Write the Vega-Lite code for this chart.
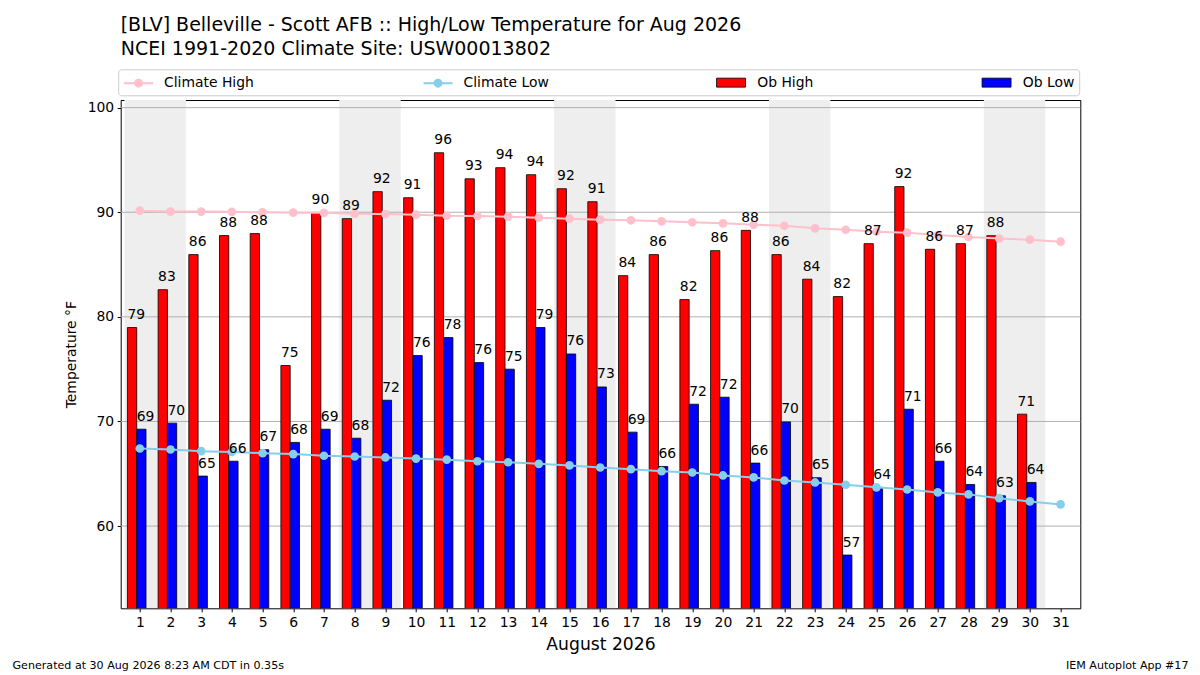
{
  "$schema": "https://vega.github.io/schema/vega-lite/v6.json",
  "width": 959.6,
  "height": 508.3,
  "autosize": {"type": "none"},
  "padding": {"left": 120.7, "top": 100, "right": 119.7, "bottom": 66.7},
  "background": "white",
  "config": {
    "font": "DejaVu Sans",
    "view": {"stroke": "black", "strokeWidth": 1},
    "axis": {
      "labelFont": "DejaVu Sans",
      "titleFont": "DejaVu Sans",
      "labelColor": "black",
      "titleColor": "black",
      "tickColor": "black",
      "grid": false,
      "domain": false,
      "labelFontSize": 13.9,
      "titleFontSize": 13.9,
      "titleFontWeight": "normal",
      "tickSize": 3.5
    },
    "legend": {
      "labelFont": "DejaVu Sans",
      "labelFontSize": 13.9,
      "labelColor": "black",
      "direction": "horizontal",
      "gridAlign": "none",
      "columnPadding": 165.5,
      "symbolSize": 256
    }
  },
  "title": {
    "text": [
      "[BLV] Belleville - Scott AFB :: High/Low Temperature for Aug 2026",
      "NCEI 1991-2020 Climate Site: USW00013802"
    ],
    "anchor": "start",
    "frame": "group",
    "font": "DejaVu Sans",
    "fontSize": 19,
    "fontWeight": "normal",
    "lineHeight": 24,
    "offset": 9.5,
    "color": "black"
  },
  "datasets": {
    "days": [
      {"day": 1, "hi": 78.98, "lo": 69.26, "chi": 90.15, "clo": 67.42},
      {"day": 2, "hi": 82.6, "lo": 69.84, "chi": 90.06, "clo": 67.32},
      {"day": 3, "hi": 85.95, "lo": 64.78, "chi": 90.06, "clo": 67.16},
      {"day": 4, "hi": 87.77, "lo": 66.2, "chi": 90.04, "clo": 67.08},
      {"day": 5, "hi": 87.96, "lo": 67.3, "chi": 89.99, "clo": 66.97},
      {"day": 6, "hi": 75.35, "lo": 68.0, "chi": 89.96, "clo": 66.88},
      {"day": 7, "hi": 89.93, "lo": 69.26, "chi": 89.94, "clo": 66.72},
      {"day": 8, "hi": 89.39, "lo": 68.4, "chi": 89.85, "clo": 66.65},
      {"day": 9, "hi": 91.97, "lo": 72.03, "chi": 89.83, "clo": 66.56},
      {"day": 10, "hi": 91.39, "lo": 76.3, "chi": 89.77, "clo": 66.45},
      {"day": 11, "hi": 95.69, "lo": 78.02, "chi": 89.67, "clo": 66.35},
      {"day": 12, "hi": 93.2, "lo": 75.63, "chi": 89.64, "clo": 66.2},
      {"day": 13, "hi": 94.26, "lo": 75.0, "chi": 89.58, "clo": 66.1},
      {"day": 14, "hi": 93.59, "lo": 78.98, "chi": 89.48, "clo": 65.95},
      {"day": 15, "hi": 92.25, "lo": 76.45, "chi": 89.39, "clo": 65.8},
      {"day": 16, "hi": 91.01, "lo": 73.3, "chi": 89.29, "clo": 65.6},
      {"day": 17, "hi": 83.94, "lo": 68.98, "chi": 89.23, "clo": 65.44},
      {"day": 18, "hi": 85.95, "lo": 65.7, "chi": 89.13, "clo": 65.25},
      {"day": 19, "hi": 81.65, "lo": 71.65, "chi": 89.04, "clo": 65.12},
      {"day": 20, "hi": 86.33, "lo": 72.32, "chi": 88.94, "clo": 64.84},
      {"day": 21, "hi": 88.27, "lo": 66.02, "chi": 88.8, "clo": 64.65},
      {"day": 22, "hi": 85.95, "lo": 69.96, "chi": 88.71, "clo": 64.36},
      {"day": 23, "hi": 83.6, "lo": 64.62, "chi": 88.46, "clo": 64.17},
      {"day": 24, "hi": 81.94, "lo": 57.23, "chi": 88.33, "clo": 63.95},
      {"day": 25, "hi": 87.0, "lo": 63.7, "chi": 88.14, "clo": 63.7},
      {"day": 26, "hi": 92.45, "lo": 71.17, "chi": 88.05, "clo": 63.5},
      {"day": 27, "hi": 86.46, "lo": 66.2, "chi": 87.82, "clo": 63.22},
      {"day": 28, "hi": 87.0, "lo": 63.98, "chi": 87.63, "clo": 63.03},
      {"day": 29, "hi": 87.76, "lo": 62.9, "chi": 87.48, "clo": 62.67},
      {"day": 30, "hi": 70.7, "lo": 64.17, "chi": 87.38, "clo": 62.36},
      {"day": 31, "hi": null, "lo": null, "chi": 87.19, "clo": 62.07}
    ],
    "weekends": [
      {"start": 0.5, "end": 2.5},
      {"start": 7.5, "end": 9.5},
      {"start": 14.5, "end": 16.5},
      {"start": 21.5, "end": 23.5},
      {"start": 28.5, "end": 30.5}
    ],
    "gridlines": [
      {"temp": 60}, {"temp": 70}, {"temp": 80}, {"temp": 90}, {"temp": 100}
    ]
  },
  "layer": [
    {
      "data": {"name": "weekends"},
      "mark": {"type": "rect", "color": "#eeeeee", "clip": true},
      "encoding": {
        "x": {"field": "start", "type": "quantitative", "axis": null,
              "scale": {"domain": [0.54, 31.48], "nice": false, "zero": false}},
        "x2": {"field": "end"}
      }
    },
    {
      "data": {"name": "gridlines"},
      "mark": {"type": "rule", "color": "#b0b0b0", "strokeWidth": 1},
      "encoding": {
        "y": {"field": "temp", "type": "quantitative", "axis": null,
              "scale": {"domain": [52.14, 100.73], "nice": false, "zero": false}}
      }
    },
    {
      "data": {"name": "days"},
      "mark": {"type": "bar", "width": 9.3, "xOffset": -7.75, "stroke": "black", "strokeWidth": 0.8, "clip": true},
      "encoding": {
        "x": {
          "field": "day", "type": "quantitative",
          "axis": {
            "values": [1, 2, 3, 4, 5, 6, 7, 8, 9, 10, 11, 12, 13, 14, 15, 16, 17, 18, 19, 20, 21, 22, 23, 24, 25, 26, 27, 28, 29, 30, 31],
            "format": "d",
            "labelPadding": 3.5,
            "labelFlush": false,
            "labelOverlap": false,
            "title": "August 2026",
            "titleFontSize": 17.2,
            "titlePadding": 6
          }
        },
        "y": {
          "field": "hi", "type": "quantitative",
          "axis": {
            "values": [60, 70, 80, 90, 100],
            "labelPadding": 3.5,
            "title": "Temperature °F",
            "titlePadding": 9
          }
        },
        "fill": {
          "datum": "Ob High",
          "scale": {
            "domain": ["Climate High", "Climate Low", "Ob High", "Ob Low"],
            "range": ["transparent", "transparent", "#ff0000", "#0000ff"]
          },
          "legend": {
            "title": null,
            "orient": "none",
            "legendX": -2.5,
            "legendY": -30.7,
            "columns": 4,
            "padding": 4.85,
            "strokeColor": "#cccccc",
            "cornerRadius": 3,
            "fillColor": "white",
            "labelOffset": 24.2,
            "symbolType": "M-1,-0.5625H2.625V0.5625H-1Z",
            "symbolStrokeColor": "black",
            "symbolStrokeWidth": 0.8
          }
        }
      }
    },
    {
      "data": {"name": "days"},
      "mark": {"type": "bar", "width": 9.3, "xOffset": 1.55, "stroke": "black", "strokeWidth": 0.8, "clip": true},
      "encoding": {
        "x": {
          "field": "day", "type": "quantitative",
          "axis": {
            "orient": "top",
            "labels": false,
            "ticks": false,
            "title": "Generated at 30 Aug 2026 8:23 AM CDT in 0.35s",
            "titleFontSize": 11.1,
            "titleAngle": 0,
            "titleX": -108.7,
            "titleY": 565,
            "titleAlign": "left",
            "titleBaseline": "middle"
          }
        },
        "y": {
          "field": "lo", "type": "quantitative",
          "axis": {
            "orient": "right",
            "labels": false,
            "ticks": false,
            "title": "IEM Autoplot App #17",
            "titleFontSize": 11.1,
            "titleAngle": 0,
            "titleX": 107.7,
            "titleY": 565,
            "titleAlign": "right",
            "titleBaseline": "middle"
          }
        },
        "fill": {"datum": "Ob Low"}
      }
    },
    {
      "data": {"name": "days"},
      "mark": {"type": "line", "strokeWidth": 2, "point": {"filled": true, "size": 75, "opacity": 1}},
      "encoding": {
        "x": {"field": "day", "type": "quantitative", "axis": null},
        "y": {"field": "chi", "type": "quantitative", "axis": null},
        "color": {
          "datum": "Climate High",
          "scale": {
            "domain": ["Climate High", "Climate Low"],
            "range": ["#ffc0cb", "#87ceeb"]
          },
          "legend": {
            "title": null,
            "orient": "none",
            "legendX": -0.65,
            "legendY": -28.85,
            "columns": 2,
            "padding": 3,
            "strokeColor": null,
            "fillColor": "white",
            "labelOffset": 23,
            "symbolType": "M-1,0H2.625M1.25,0A0.4375,0.4375,0,1,1,0.375,0A0.4375,0.4375,0,1,1,1.25,0M1,0A0.1875,0.1875,0,1,1,0.625,0A0.1875,0.1875,0,1,1,1,0",
            "symbolStrokeWidth": 2
          }
        }
      }
    },
    {
      "data": {"name": "days"},
      "mark": {"type": "line", "strokeWidth": 2, "point": {"filled": true, "size": 75, "opacity": 1}},
      "encoding": {
        "x": {"field": "day", "type": "quantitative", "axis": null},
        "y": {"field": "clo", "type": "quantitative", "axis": null},
        "color": {"datum": "Climate Low"}
      }
    },
    {
      "data": {"name": "days"},
      "mark": {"type": "text", "align": "left", "baseline": "alphabetic", "dy": -8.5, "xOffset": -12.4, "fontSize": 13.9, "font": "DejaVu Sans", "color": "black"},
      "encoding": {
        "x": {"field": "day", "type": "quantitative", "axis": null},
        "y": {"field": "hi", "type": "quantitative", "axis": null},
        "text": {"field": "hi", "type": "quantitative", "format": ".0f"}
      }
    },
    {
      "data": {"name": "days"},
      "mark": {"type": "text", "align": "left", "baseline": "alphabetic", "dy": -8.5, "xOffset": -3.1, "fontSize": 13.9, "font": "DejaVu Sans", "color": "black"},
      "encoding": {
        "x": {"field": "day", "type": "quantitative", "axis": null},
        "y": {"field": "lo", "type": "quantitative", "axis": null},
        "text": {"field": "lo", "type": "quantitative", "format": ".0f"}
      }
    }
  ],
  "resolve": {"axis": {"x": "independent", "y": "independent"}}
}
